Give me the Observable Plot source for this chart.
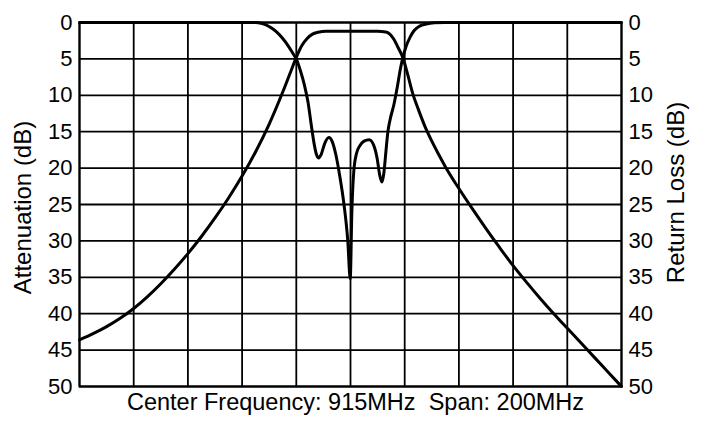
<!DOCTYPE html>
<html>
<head>
<meta charset="utf-8">
<script src="https://cdn.jsdelivr.net/npm/d3@7"></script>
<script src="https://cdn.jsdelivr.net/npm/@observablehq/plot@0.6"></script>
<style>
  html, body { margin: 0; padding: 0; background: #fff; }
  #chart svg { display: block; }
</style>
</head>
<body>
<div id="chart"></div>
<script>
// Frequency grid (MHz): center 915 MHz, span 200 MHz, 20 MHz per division
const xGrid = [815, 835, 855, 875, 895, 915, 935, 955, 975, 995, 1015];
const yTicks = [0, 5, 10, 15, 20, 25, 30, 35, 40, 45, 50];
const caption = "Center Frequency: 915MHz  Span: 200MHz";
const leftLabel = "Attenuation (dB)";
const rightLabel = "Return Loss (dB)";

// Attenuation curve (dB vs MHz)
const attFreq = [815, 820, 825, 830, 835, 840, 845, 850, 855, 860, 865, 870, 875, 880, 885, 890, 893, 895, 897, 899, 901, 903, 906, 915, 925, 928, 929.5, 931, 932.5, 934.5, 936, 938, 940, 942.5, 945, 947.5, 950, 955, 960, 965, 970, 975, 980, 985, 990, 995, 1000, 1005, 1010, 1015];
const attDb   = [43.6, 42.75, 41.78, 40.63, 39.28, 37.68, 35.88, 33.9, 31.75, 29.4, 26.85, 24.1, 21.1, 17.75, 13.95, 9.55, 6.7, 4.8, 3.2, 2.2, 1.6, 1.35, 1.2, 1.2, 1.2, 1.3, 1.6, 2.3, 3.4, 5.0, 7.0, 9.8, 11.9, 14.3, 16.3, 18.1, 19.8, 22.8, 25.6, 28.3, 30.9, 33.4, 35.7, 37.9, 40.0, 42.0, 44.0, 46.0, 48.0, 50.0];

// Return loss curve (dB vs MHz)
const rlFreq = [815, 880, 882, 884, 886, 888, 890, 892, 894, 895, 896.5, 898, 899.3, 900.5, 901.5, 902.5, 903.3, 904.2, 905.5, 907, 908.3, 909.5, 911, 912.6, 914, 914.9, 915.5, 916.2, 917.2, 918.5, 920, 921.9, 923.5, 924.8, 925.8, 926.6, 927.3, 928, 928.8, 929.7, 931, 932.3, 933.3, 934.2, 935.5, 937, 938.5, 940.5, 943, 946, 950, 1015];
const rlDb   = [0, 0, 0.1, 0.35, 0.8, 1.4, 2.2, 3.2, 4.4, 5.0, 6.6, 8.6, 10.9, 14.0, 16.5, 18.2, 18.6, 18.1, 16.6, 15.8, 16.4, 18.0, 21.0, 25.0, 30.0, 35.2, 26.0, 20.5, 18.0, 16.9, 16.3, 16.1, 16.8, 18.6, 21.0, 21.9, 20.7, 18.0, 15.0, 13.2, 11.3, 8.8, 6.6, 5.0, 3.3, 2.0, 1.1, 0.5, 0.2, 0.05, 0, 0];

const att = attFreq.map((f, i) => ({f, db: attDb[i]}));
const rl = rlFreq.map((f, i) => ({f, db: rlDb[i]}));

const font = "'Liberation Sans', Arial, Helvetica, sans-serif";

const chart = Plot.plot({
  width: 702,
  height: 430,
  marginLeft: 79,
  marginRight: 81,
  marginTop: 22,
  marginBottom: 44,
  style: {fontFamily: font, color: "#000", background: "#fff"},
  x: {domain: [815, 1015], axis: null},
  y: {domain: [0, 50], reverse: true, axis: null},
  marks: [
    Plot.gridX(xGrid, {stroke: "#000", strokeOpacity: 1, strokeWidth: 1.8}),
    Plot.gridY(yTicks, {stroke: "#000", strokeOpacity: 1, strokeWidth: 1.8}),
    Plot.frame({stroke: "#000", strokeWidth: 2}),
    Plot.axisY(yTicks, {anchor: "left", tickSize: 0, tickPadding: 7, fontSize: 22, label: null}),
    Plot.axisY(yTicks, {anchor: "right", tickSize: 0, tickPadding: 7, fontSize: 22, label: null}),
    Plot.text([leftLabel], {frameAnchor: "left", dx: -56, dy: 3, rotate: -90, textAnchor: "middle", lineAnchor: "middle", fontSize: 24, fill: "#000"}),
    Plot.text([rightLabel], {frameAnchor: "right", dx: 55, dy: -12, rotate: -90, textAnchor: "middle", lineAnchor: "middle", fontSize: 24, fill: "#000"}),
    Plot.line(att, {x: "f", y: "db", stroke: "#000", strokeWidth: 3, curve: "monotone-x"}),
    Plot.line(rl, {x: "f", y: "db", stroke: "#000", strokeWidth: 3, curve: "monotone-x"}),
    Plot.text([caption], {frameAnchor: "bottom", dy: 16, dx: 5, lineAnchor: "middle", fontSize: 23.5, fill: "#000"})
  ]
});
document.getElementById("chart").appendChild(chart);
</script>
</body>
</html>
